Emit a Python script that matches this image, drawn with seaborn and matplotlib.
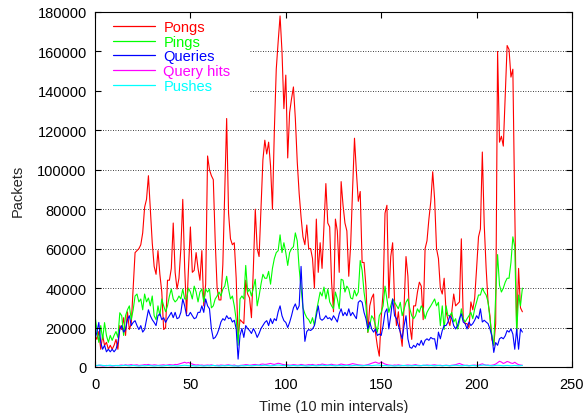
import numpy as np
import pandas as pd
import matplotlib
matplotlib.use("Agg")
import matplotlib.pyplot as plt
from matplotlib.patches import Rectangle
import seaborn as sns

# ---- data ----
pongs = [
    16000, 14000, 18000, 9000, 16000, 11000, 12500, 9000, 11000, 9000,
    11000, 14000, 9000, 21000, 19000, 25000, 16000, 28000, 19000, 22000,
    39500, 58000, 59000, 60000, 62000, 68000, 81000, 85000, 97000, 80000,
    63000, 51000, 47000, 59000, 47000, 38000, 19000, 20000, 44000, 44000,
    50000, 73000, 48000, 39500, 45000, 60000, 85000, 50000, 27000, 50000,
    71000, 48000, 49000, 58000, 50000, 44000, 59000, 31000, 42000, 107000,
    100000, 97000, 95000, 64000, 40000, 34000, 34000, 52000, 90000, 126000,
    78000, 65000, 62000, 63000, 45000, 15000, 24000, 23000, 22000, 44000,
    37000, 35000, 25000, 50000, 80000, 60000, 56000, 80000, 105000, 115000,
    108000, 114000, 102000, 80000, 120000, 151000, 165000, 178000, 160000, 131000,
    148000, 106000, 129000, 136000, 142000, 126000, 104000, 88000, 76000, 66000,
    62000, 72000, 60000, 60000, 55000, 40000, 75000, 48000, 63000, 50000,
    71000, 93000, 73000, 71000, 43000, 28000, 75000, 69000, 48000, 94000,
    82000, 73000, 69000, 46000, 62000, 90000, 116000, 99000, 84000, 89000,
    53000, 53000, 41000, 17500, 31000, 35000, 37000, 17500, 10500, 5500,
    25000, 38000, 78000, 82000, 35000, 56000, 63000, 33000, 21000, 28000,
    17500, 10500, 31000, 56000, 46000, 21000, 14000, 31000, 31000, 38000,
    43000, 41000, 24000, 60000, 64000, 75000, 84000, 99000, 85000, 60000,
    55000, 40000, 37000, 45000, 28000, 24000, 21000, 28000, 37000, 31000,
    32000, 33000, 65000, 24000, 22000, 22000, 20000, 33000, 29000, 35000,
    50000, 66000, 70000, 109000, 72000, 50000, 33000, 26000, 14000, 11000,
    22000, 160000, 114000, 117000, 112000, 137000, 163000, 161000, 147000, 151000,
    80000, 18000, 50000, 30000, 28000,
]
pings = [
    26000, 19000, 12500, 21000, 14000, 22500, 16000, 12500, 16000, 13500,
    16000, 18000, 15000, 27500, 26000, 16000, 26000, 29000, 31000, 24000,
    29000, 36000, 37000, 33000, 34500, 29000, 37000, 33000, 35000, 31000,
    36000, 26000, 24000, 31000, 26000, 34500, 31000, 28000, 31000, 36000,
    39500, 34500, 33000, 34000, 36000, 34500, 39500, 34500, 34500, 40000,
    38000, 34500, 41000, 38000, 33000, 38000, 39500, 33000, 39500, 38000,
    39500, 30000, 31000, 34500, 36000, 38000, 36000, 39500, 41000, 46000,
    39500, 34500, 36000, 31000, 24000, 11000, 34500, 36000, 34500, 51500,
    38000, 39500, 36000, 40000, 44500, 31000, 36000, 42000, 47000, 45000,
    45000, 48500, 42000, 50000, 55000, 58000, 59000, 67000, 58000, 63000,
    58000, 51500, 58000, 60000, 61000, 68000, 64000, 50000, 40000, 30000,
    27000, 25000, 24000, 22000, 25000, 21000, 28000, 33000, 38000, 36000,
    40500, 34500, 39500, 33000, 31000, 29500, 38000, 34500, 29500, 44500,
    44000, 38000, 41000, 39500, 35000, 34500, 39000, 36000, 38000, 54000,
    49000, 38000, 31000, 17700, 21000, 26000, 24500, 21000, 17700, 26000,
    27700, 31000, 41000, 34500, 27700, 31000, 34500, 32800, 31000, 29500,
    32800, 26000, 29500, 32800, 34500, 29500, 26000, 24500, 26000, 29500,
    27700, 31000, 29500, 24500, 27700, 29500, 31000, 32800, 34500, 31000,
    32800, 21000, 31000, 19000, 31000, 26000, 26000, 27700, 22800, 24500,
    19300, 22800, 29500, 24500, 22800, 24500, 26000, 27700, 24500, 29500,
    33000, 36500, 36500, 40000, 38000, 36500, 33000, 24500, 15800, 11000,
    36500, 57000, 41500, 38000, 40000, 43000, 45000, 45000, 53000, 66000,
    61000, 17000, 36500, 31000, 40000,
]
queries = [
    14000, 17700, 22600, 12500, 9000, 11000, 7700, 9000, 7700, 9000,
    7700, 9000, 12500, 19000, 21000, 17700, 19000, 24000, 26000, 21000,
    22600, 23500, 21000, 19000, 21000, 17700, 19000, 24000, 29000, 26000,
    24000, 22600, 21000, 26000, 27000, 24000, 25000, 22600, 24500, 26000,
    27700, 25000, 27700, 24500, 25000, 27700, 34500, 31000, 26000, 26000,
    27700, 26000, 24500, 25000, 27700, 27700, 31000, 27700, 34500, 31000,
    29500, 19300, 14300, 15000, 16700, 19300, 22800, 24500, 23700, 26000,
    24500, 25000, 22800, 23700, 19300, 4000, 16000, 19500, 15000, 21000,
    19500, 18500, 17000, 19500, 17700, 15000, 17000, 19500, 21000, 22600,
    23500, 21000, 24500, 22000, 24500, 23500, 28000, 31000, 26000, 23500,
    22600, 20000, 22600, 26000, 30000, 32000, 29000, 31000, 51000, 30000,
    13000, 18000, 19000, 18500, 19300, 21000, 26000, 31000, 24500, 23700,
    24500, 26000, 24500, 25000, 23700, 26000, 24500, 22800, 27000, 29500,
    26000, 27700, 26000, 29500, 26000, 27700, 26000, 24500, 32800, 33700,
    32800, 27700, 24500, 19300, 22800, 19300, 17700, 19300, 16000, 16700,
    16000, 21000, 27700, 29500, 19300, 26000, 34500, 26000, 24500, 21000,
    17700, 14300, 21000, 26000, 14300, 10000, 9500, 11000, 10000, 12000,
    11000, 13500, 11000, 13500, 14300, 13500, 15000, 14300, 14300, 9000,
    17700, 14300, 18500, 21000, 21000, 22800, 26000, 24500, 21000, 19300,
    21000, 24500, 27000, 22800, 22000, 19300, 22800, 21000, 22000, 23700,
    26000, 24500, 29500, 22800, 23700, 22800, 22000, 19300, 15800, 7400,
    12400, 11000, 14300, 15000, 14300, 15800, 18500, 17700, 19300, 16700,
    9000, 19300, 9000, 19300, 17700,
]
query_hits = [
    800, 600, 900, 700, 500, 600, 800, 700, 600, 500, 700, 800, 600, 900, 1000,
    800, 1100, 900, 1000, 1200, 900, 1000, 1100, 800, 900, 1000, 1200, 1100, 1300, 1000,
    900, 1100, 1000, 800, 900, 1000, 1100, 900, 1000, 1200, 1100, 1000, 1300, 1200, 1500,
    1800, 2100, 2400, 2000, 2300, 1800, 1500, 1200, 1000, 1100, 900, 1000, 800, 900, 1000,
    900, 1100, 800, 700, 900, 800, 1000, 900, 800, 1000, 1100, 900, 800, 1000, 700,
    500, 800, 900, 1000, 1200, 1100, 900, 1000, 1200, 1300, 1100, 1000, 1400, 1500, 1300,
    1400, 1600, 1800, 1500, 1300, 1600, 1900, 1700, 1400, 1200, 1000, 1100, 900, 1000, 1200,
    1100, 900, 1000, 1300, 1100, 900, 1000, 1200, 1100, 1300, 1000, 900, 1200, 1100, 1500,
    1300, 1100, 1000, 1200, 1400, 1100, 1000, 900, 1200, 1500, 1300, 1100, 1000, 1200, 1400,
    1700, 1500, 1300, 1100, 1000, 900, 800, 1000, 1200, 1500, 1900, 2200, 2500, 2100, 1800,
    2600, 2000, 1500, 1200, 1000, 900, 800, 1000, 900, 1100, 900, 800, 700, 900, 1000,
    900, 800, 1000, 1200, 900, 800, 700, 900, 800, 1000, 900, 800, 1000, 1100, 900,
    800, 900, 700, 800, 900, 800, 700, 900, 1000, 1200, 1500, 1800, 1400, 1000, 800,
    900, 700, 800, 900, 1000, 800, 900, 1300, 1600, 1200, 900, 1000, 800, 900, 1100,
    1500, 2200, 2900, 2500, 1800, 2200, 2800, 2500, 2000, 1800, 2400, 1700, 1200, 1000, 900,
]
pushes = [
    700, 800, 900, 1000, 800, 700, 600, 800, 900, 700, 600, 700, 800, 600, 700,
    800, 900, 700, 600, 700, 800, 700, 600, 500, 600, 700, 600, 700, 800, 700,
    600, 500, 600, 700, 600, 500, 600, 700, 800, 700, 600, 700, 600, 500, 600,
    700, 800, 900, 800, 700, 600, 700, 600, 500, 600, 700, 600, 500, 600, 700,
    600, 700, 800, 700, 600, 500, 600, 700, 600, 700, 800, 700, 600, 500, 600,
    500, 600, 700, 600, 700, 800, 700, 600, 700, 800, 900, 800, 700, 800, 900,
    800, 700, 600, 700, 800, 900, 1000, 900, 800, 700, 800, 700, 600, 700, 800,
    700, 600, 700, 800, 700, 600, 500, 600, 700, 800, 700, 600, 700, 800, 900,
    800, 700, 800, 900, 800, 700, 600, 700, 800, 700, 600, 700, 800, 700, 600,
    700, 800, 900, 800, 700, 600, 700, 800, 900, 800, 700, 800, 900, 1000, 900,
    800, 700, 800, 700, 600, 700, 600, 500, 600, 700, 600, 700, 800, 700, 600,
    700, 600, 700, 800, 700, 600, 700, 800, 900, 800, 700, 800, 700, 600, 700,
    800, 700, 600, 700, 800, 700, 600, 700, 800, 900, 800, 700, 600, 700, 800,
    700, 600, 700, 800, 700, 600, 700, 800, 900, 1000, 900, 800, 700, 600, 700,
    800, 900, 800, 700, 600, 700, 800, 700, 600, 700, 800, 700, 600, 700, 800,
]

series_names = ["Pongs", "Pings", "Queries", "Query hits", "Pushes"]
series_colors = ["#ff0000", "#00ff00", "#0000ff", "#ff00ff", "#00ffff"]
x_ticks = [0, 50, 100, 150, 200, 250]
y_ticks = [0, 20000, 40000, 60000, 80000, 100000, 120000, 140000, 160000, 180000]
x_label = "Time (10 min intervals)"
y_label = "Packets"

# ---- build long table ----
frames = []
for name, vals in zip(series_names, [pongs, pings, queries, query_hits, pushes]):
    frames.append(pd.DataFrame({"t": np.arange(len(vals)), "packets": vals, "series": name}))
df = pd.concat(frames, ignore_index=True)

sns.set_style("ticks")
plt.rcParams["font.family"] = ["Liberation Sans", "DejaVu Sans"]

W, H = 583, 414
fig = plt.figure(figsize=(W / 100, H / 100), dpi=100)
L, R, T, B = 95, 572, 13, 368
ax = fig.add_axes([L / W, 1 - B / H, (R - L) / W, (B - T) / H])

sns.lineplot(data=df, x="t", y="packets", hue="series", hue_order=series_names,
             palette=series_colors, linewidth=0.8, ax=ax, estimator=None,
             sort=False, legend=True)

ax.set_xlim(0, 250)
ax.set_ylim(0, 180000)
ax.set_xticks(x_ticks)
ax.set_yticks(y_ticks)
ax.set_xticklabels([str(v) for v in x_ticks], fontsize=10.5)
ax.set_yticklabels([str(v) for v in y_ticks], fontsize=10.5)
ax.tick_params(direction="in", top=True, right=True, length=4, width=0.8,
               color="black", labelcolor="black")
ax.tick_params(axis="y", pad=6)
ax.tick_params(axis="x", pad=7)
ax.set_axisbelow(False)
for s in ax.spines.values():
    s.set_color("black")
    s.set_linewidth(0.8)
    s.set_zorder(3)

# dotted horizontal grid
for yv in y_ticks[1:-1]:
    ax.axhline(yv, color="black", linestyle=(0, (1, 2)), linewidth=0.6, zorder=1)

ax.set_xlabel(x_label, fontsize=10.5, labelpad=6)
ax.set_ylabel(y_label, fontsize=10.5, labelpad=9)

# white key area
pw, ph = R - L, B - T
ax.add_patch(Rectangle(((100 - L) / pw, 1 - (97 - T) / ph), (250 - 100) / pw, (97 - 16) / ph,
                       transform=ax.transAxes, facecolor="white", edgecolor="none", zorder=2.1))

handles, labels = ax.get_legend_handles_labels()
leg = ax.legend(handles, labels, loc="upper left",
                bbox_to_anchor=((113 - L) / pw, 1 - (21 - T) / ph),
                frameon=False, borderpad=0, borderaxespad=0,
                handlelength=2.85, handletextpad=0.6, labelspacing=0.045,
                fontsize=10.5)
leg.set_zorder(2.2)
for txt, c in zip(leg.get_texts(), series_colors):
    txt.set_color(c)
for ln in leg.get_lines():
    ln.set_linewidth(0.9)

fig.savefig("out.png", dpi=100)
